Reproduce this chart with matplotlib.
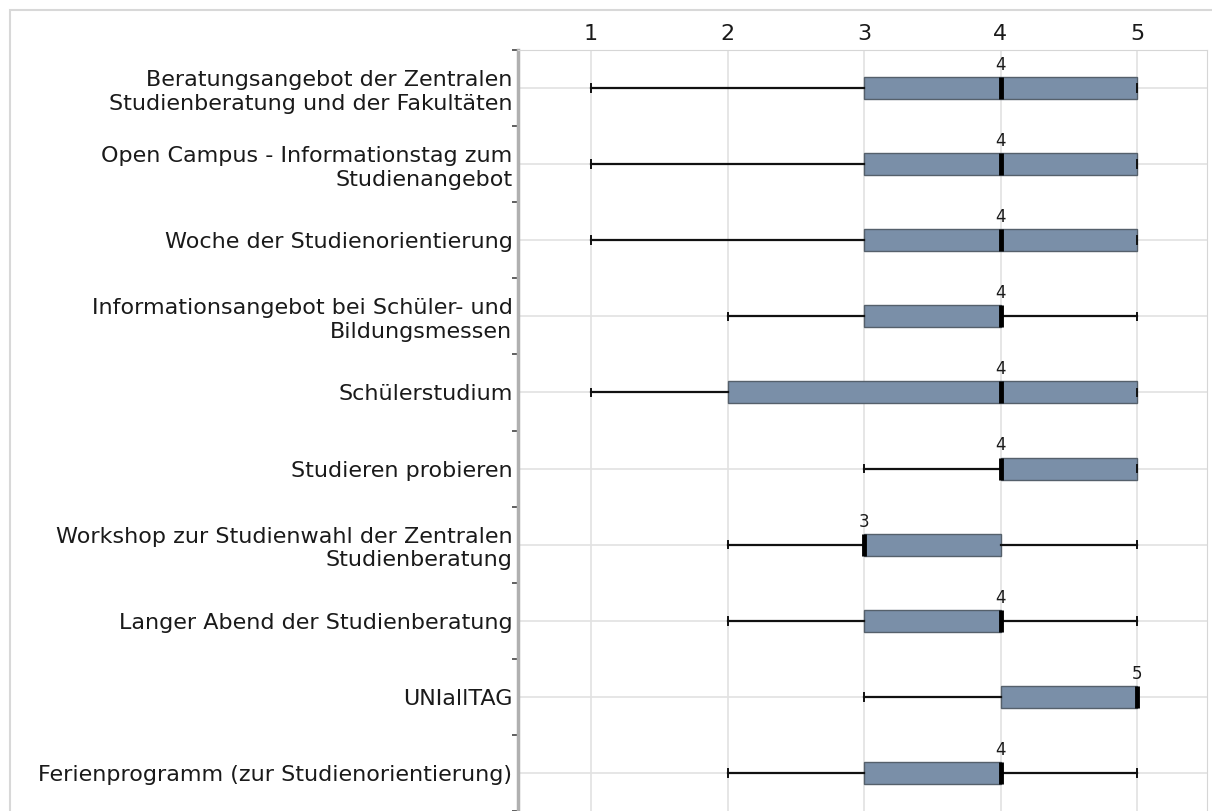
import matplotlib
matplotlib.use("Agg")
import matplotlib.pyplot as plt
from matplotlib.patches import Rectangle
from matplotlib.ticker import FixedLocator

plt.rcParams['font.family'] = ['DejaVu Sans']

labels = [
    "Beratungsangebot der Zentralen\nStudienberatung und der Fakultäten",
    "Open Campus - Informationstag zum\nStudienangebot",
    "Woche der Studienorientierung",
    "Informationsangebot bei Schüler- und\nBildungsmessen",
    "Schülerstudium",
    "Studieren probieren",
    "Workshop zur Studienwahl der Zentralen\nStudienberatung",
    "Langer Abend der Studienberatung",
    "UNIallTAG",
    "Ferienprogramm (zur Studienorientierung)",
]
whis_lo = [1, 1, 1, 2, 1, 3, 2, 2, 3, 2]
q1 = [3, 3, 3, 3, 2, 4, 3, 3, 4, 3]
median = [4, 4, 4, 4, 4, 4, 3, 4, 5, 4]
q3 = [5, 5, 5, 4, 5, 5, 4, 4, 5, 4]
whis_hi = [5, 5, 5, 5, 5, 5, 5, 5, 5, 5]
x_ticks = [1, 2, 3, 4, 5]

stats = []
for i in range(len(labels)):
    stats.append(dict(med=median[i], q1=q1[i], q3=q3[i],
                      whislo=whis_lo[i], whishi=whis_hi[i], fliers=[]))

fig = plt.figure(figsize=(12.12, 8.11), dpi=100)
fig.patches.append(Rectangle((10 / 1212, -0.1), 1.2, 0.1 + 801 / 811,
                             transform=fig.transFigure, fill=False,
                             edgecolor='#d8d8d8', lw=1.5))
ax = fig.add_axes([518 / 1212, 0, (1207 - 518) / 1212, 761 / 811])

pos = list(range(len(labels)))
box_w = 0.29
ax.bxp(stats, positions=pos, widths=box_w, orientation='horizontal',
       patch_artist=True, showfliers=False, manage_ticks=False,
       capwidths=0.1,
       boxprops=dict(facecolor='#7a8fa8', edgecolor='#55606b', lw=1),
       whiskerprops=dict(color='#111111', lw=1.6),
       capprops=dict(color='#111111', lw=1.4),
       medianprops=dict(color='black', lw=3.5, solid_capstyle='butt'))

for p, m in zip(pos, median):
    ax.text(m, p - box_w / 2 - 0.04, str(m), ha='center', va='bottom',
            fontsize=12, color='#1a1a1a')

ax.set_xlim(1 - 73 / 136.5, 5 + 70 / 136.5)
ax.set_ylim(len(labels) - 0.5, -0.5)
ax.set_xticks(x_ticks)
ax.set_xticklabels([str(t) for t in x_ticks])
ax.xaxis.tick_top()
ax.tick_params(axis='x', length=0, pad=4, labelsize=16, colors='#1a1a1a')
ax.set_yticks(pos)
ax.set_yticklabels(labels, linespacing=1.22)
ax.yaxis.set_minor_locator(FixedLocator([p - 0.5 for p in range(len(labels) + 1)]))
ax.tick_params(axis='y', which='major', length=0, pad=4, labelsize=16,
               colors='#1a1a1a')
ax.tick_params(axis='y', which='minor', length=4, width=1.2, color='#444444')

ax.grid(True, color='#e2e2e2', lw=1.2)
ax.set_axisbelow(True)
ax.spines['left'].set_color('#b0b0b0')
ax.spines['left'].set_linewidth(2.5)
ax.spines['top'].set_color('#d6d6d6')
ax.spines['right'].set_color('#d6d6d6')
ax.spines['bottom'].set_visible(False)

fig.savefig("out.png", dpi=100)
